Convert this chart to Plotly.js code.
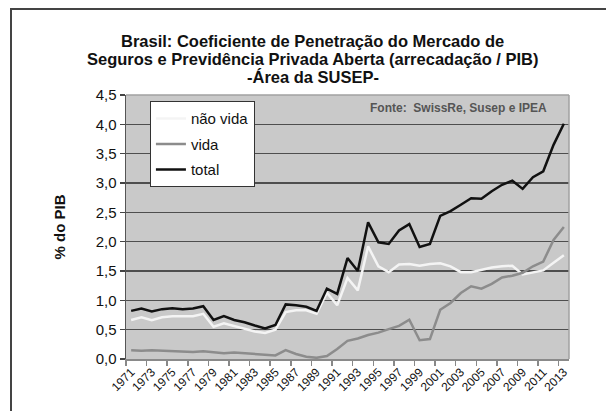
<!DOCTYPE html>
<html>
<head>
<meta charset="utf-8">
<script src="https://cdn.plot.ly/plotly-3.0.1.min.js"></script>
<style>
  html, body { margin: 0; padding: 0; background: #ffffff; }
  #wrap { position: relative; width: 606px; height: 411px; overflow: hidden; }
  #chart { position: absolute; left: 0; top: 0; width: 606px; height: 411px; }
  #frame { position: absolute; left: 10px; top: 8px; width: 620px; height: 420px;
           border-top: 2px solid #444; border-left: 2px solid #444; pointer-events: none; }
</style>
</head>
<body>
<div id="wrap">
  <div id="chart"></div>
  <div id="frame"></div>
</div>
<script>
// Years 1971..2013 (category labels)
const years = ["1971","1972","1973","1974","1975","1976","1977","1978","1979","1980",
               "1981","1982","1983","1984","1985","1986","1987","1988","1989","1990",
               "1991","1992","1993","1994","1995","1996","1997","1998","1999","2000",
               "2001","2002","2003","2004","2005","2006","2007","2008","2009","2010",
               "2011","2012","2013"];

// "não vida" (non-life) premiums / GDP, %
const naoVida = [0.665,0.71,0.66,0.71,0.73,0.725,0.73,0.77,0.55,0.61,
                 0.565,0.52,0.47,0.445,0.50,0.80,0.83,0.83,0.77,1.13,
                 0.915,1.38,1.17,1.92,1.58,1.48,1.61,1.62,1.59,1.62,
                 1.63,1.58,1.48,1.48,1.52,1.56,1.58,1.59,1.44,1.48,
                 1.51,1.64,1.77];

// "vida" (life) premiums / GDP, %
const vida = [0.15,0.14,0.15,0.14,0.13,0.13,0.12,0.13,0.12,0.10,
              0.11,0.10,0.09,0.07,0.06,0.15,0.085,0.04,0.02,0.05,
              0.17,0.31,0.35,0.41,0.45,0.51,0.565,0.67,0.32,0.34,
              0.84,0.955,1.125,1.24,1.20,1.28,1.39,1.42,1.47,1.58,
              1.66,2.03,2.25];

// "total" premiums / GDP, %
const total = [0.82,0.86,0.81,0.85,0.865,0.85,0.86,0.90,0.665,0.73,
               0.665,0.625,0.57,0.52,0.58,0.93,0.915,0.89,0.82,1.20,
               1.11,1.72,1.50,2.33,1.99,1.96,2.19,2.30,1.91,1.96,
               2.44,2.52,2.63,2.74,2.73,2.86,2.97,3.04,2.90,3.10,
               3.20,3.65,4.01];

const yTickVals = [0,0.5,1,1.5,2,2.5,3,3.5,4,4.5];

const titleLines = ["Brasil: Coeficiente de Penetração do Mercado de",
                    "Seguros e Previdência Privada Aberta (arrecadação / PIB)",
                    "-Área da SUSEP-"];
const yTitle = "% do PIB";
const sourceText = "Fonte:  SwissRe, Susep e IPEA";

const FONT = "Liberation Sans, Arial, sans-serif";

const traces = [
  { x: years, y: naoVida, name: "não vida", type: "scatter", mode: "lines",
    line: { color: "#f4f4f4", width: 2.5 }, legendgroup: "a" },
  { x: years, y: vida, name: "vida", type: "scatter", mode: "lines",
    line: { color: "#8c8c8c", width: 2.5 }, legendgroup: "b" },
  { x: years, y: total, name: "total", type: "scatter", mode: "lines",
    line: { color: "#111111", width: 2.5 }, legendgroup: "c" }
];

// title lines as annotations (tight line spacing like the original)
const titleY = [1.2045, 1.136, 1.068];
const titleAnn = titleLines.map((t, i) => ({
  text: t, xref: "paper", yref: "paper", x: 0.422, y: titleY[i],
  xanchor: "center", yanchor: "middle", showarrow: false,
  font: { family: FONT, size: 16.5, color: "#111", weight: "bold" }
}));

const layout = {
  width: 606, height: 411,
  margin: { l: 126, r: 37, t: 95, b: 52 },
  paper_bgcolor: "rgba(0,0,0,0)",
  plot_bgcolor: "#c9c9c9",
  separators: ",.",
  font: { family: FONT, color: "#111" },
  showlegend: true,
  xaxis: {
    type: "category",
    tickmode: "linear", tick0: 0, dtick: 2,
    tickson: "boundaries",
    ticks: "outside", ticklen: 5, tickcolor: "#888", tickwidth: 1.5,
    tickangle: -45,
    tickfont: { family: FONT, size: 12, color: "#111" },
    showgrid: false,
    showline: true, linecolor: "#8a8a8a", linewidth: 1.5,
    range: [-0.5, 42.5],
    fixedrange: true
  },
  yaxis: {
    range: [0, 4.5],
    tickmode: "array", tickvals: yTickVals,
    tickformat: ".1f",
    ticks: "outside", ticklen: 5, tickcolor: "#444", tickwidth: 1.5,
    tickfont: { family: FONT, size: 15, color: "#111" },
    showgrid: true, gridcolor: "#4e4e4e", gridwidth: 1.6,
    showline: true, linecolor: "#555", linewidth: 1.5,
    zeroline: false,
    title: { text: yTitle, font: { family: FONT, size: 15, color: "#111", weight: "bold" }, standoff: 26 },
    fixedrange: true
  },
  legend: {
    x: 0.054, y: 0.976, xanchor: "left", yanchor: "top",
    bgcolor: "#ffffff", bordercolor: "#333", borderwidth: 1,
    font: { family: FONT, size: 15, color: "#111" },
    traceorder: "grouped", tracegroupgap: 3,
    entrywidth: 112, entrywidthmode: "pixels"
  },
  shapes: [
    { type: "line", xref: "paper", yref: "paper", x0: 0, x1: 1, y0: 1, y1: 1,
      line: { color: "#a0a0a0", width: 1.5 } },
    { type: "line", xref: "paper", yref: "paper", x0: 1, x1: 1, y0: 0, y1: 1,
      line: { color: "#a0a0a0", width: 1.5 } }
  ],
  annotations: titleAnn.concat([
    { text: sourceText, xref: "paper", yref: "paper", x: 0.955, y: 0.952,
      xanchor: "right", yanchor: "middle", showarrow: false,
      font: { family: FONT, size: 12, color: "#555", weight: "bold" } }
  ])
};

Plotly.newPlot("chart", traces, layout, { displayModeBar: false, staticPlot: true });
</script>
</body>
</html>
